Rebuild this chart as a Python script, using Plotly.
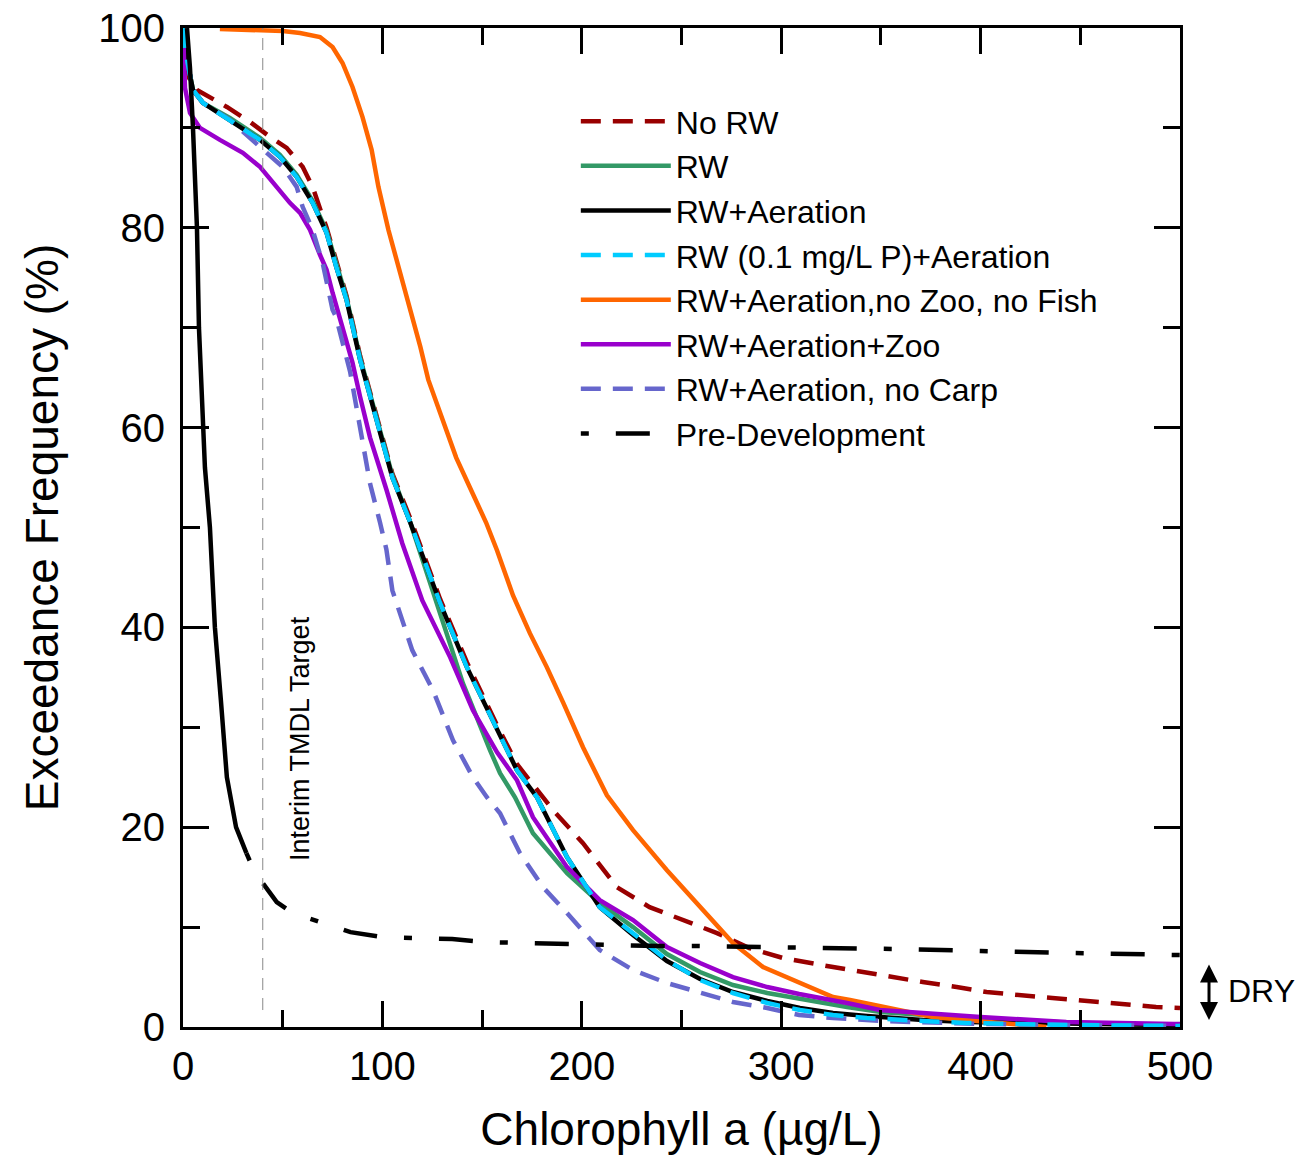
import plotly.graph_objects as go

# ---------------- data ----------------
norw_x = [0, 1, 3, 7, 22, 33.6, 43.6, 52, 60, 65, 72, 77, 82, 88.8, 93.8, 97.3, 105, 114, 119, 129, 142.4,
          157.5, 167.5, 179, 185.6, 200.6, 217.6, 234, 250.8, 267.8, 284, 301, 326, 343, 371, 388, 403, 436,
          453, 488, 500]
norw_y = [100, 97, 95, 93.8, 92.1, 90.6, 89.1, 88, 86.1, 84.1, 80, 76.5, 73.2, 67.2, 63.5, 60.9, 55.4, 50.9,
          48.2, 42.8, 36.5, 30.2, 26.3, 23.4, 21.7, 18.4, 14, 12, 10.7, 9.4, 7.9, 6.9, 6, 5.4, 4.5, 4, 3.5,
          2.9, 2.6, 2, 1.9]

rw_x = [0, 1, 3, 5, 10, 23.5, 38.6, 48.6, 57, 65, 72, 77, 82, 88.8, 93.8, 97.3, 105, 114, 124, 140.4, 154,
        159, 166.5, 175.5, 192.6, 209, 225.7, 242.7, 259.3, 275.8, 293, 309, 333, 350, 400, 450, 500]
rw_y = [100, 98, 95.8, 93.8, 92.5, 91.0, 89.0, 87.3, 85.3, 82.7, 79.7, 76.2, 73.0, 67.0, 63.3, 60.7, 55.2,
        50.5, 44.4, 34.4, 27.7, 25.4, 23, 19.4, 15.4, 12.4, 10, 7.3, 5.5, 4.2, 3.4, 2.8, 2.0, 1.5, 0.8, 0.4,
        0.2]

aer_x = [0, 1, 3, 5, 10, 23.5, 38.6, 48.6, 57, 65, 72, 77, 82, 88.8, 93.8, 97.3, 105, 114, 119, 129, 142.4,
         157.5, 167.5, 177.5, 192.6, 209, 225.7, 242.7, 259.3, 275.8, 293, 309.4, 326, 343, 371, 393, 443,
         493, 500]
aer_y = [100, 98, 95.8, 93.8, 92.5, 90.8, 88.8, 87.1, 85.1, 82.5, 79.5, 76, 72.8, 66.8, 63.1, 60.5, 55,
         50.5, 47.8, 42.4, 36, 29.7, 25.7, 23, 17, 12, 9.2, 6.6, 4.8, 3.5, 2.6, 1.9, 1.4, 1.1, 0.7, 0.5,
         0.3, 0.2, 0.2]

p01_x = [0, 1, 3, 5, 10, 23.5, 38.6, 48.6, 57, 65, 72, 77, 82, 88.8, 93.8, 97.3, 105, 114, 119, 129, 142.4,
         157.5, 167.5, 177.5, 192.6, 209, 225.7, 242.7, 259.3, 275.8, 293, 309.4, 326, 343, 371, 393, 443,
         493, 500]
p01_y = [100, 98, 95.8, 93.8, 92.5, 90.8, 88.8, 87.1, 85.1, 82.5, 79.5, 76, 72.8, 66.8, 63.1, 60.5, 55,
         50.5, 47.8, 42.4, 36, 29.7, 25.7, 23, 17, 12, 9.4, 6.7, 4.7, 3.4, 2.4, 1.7, 1.2, 0.9, 0.6, 0.4,
         0.2, 0.1, 0.1]

nozoo_x = [18.5, 40, 50, 58.7, 68.7, 75, 80, 85, 90, 94.6, 98, 103, 109, 114, 119, 123, 129, 137, 145.5,
           152, 157.5, 165.5, 174, 182.5, 190.6, 200.6, 212.6, 225.7, 242.7, 259.3, 275.8, 290.9, 309.4,
           326, 334.5, 351, 376, 409.7, 433]
nozoo_y = [99.9, 99.8, 99.7, 99.5, 99.1, 98.1, 96.5, 94.1, 91.1, 87.8, 84.1, 79.8, 75.5, 71.5, 68.1, 64.8,
           61.5, 57, 53.3, 50.5, 47.7, 43.2, 39.4, 36, 32.5, 28, 23.2, 19.7, 15.7, 12, 8.4, 6.0, 4.4, 3.0,
           2.7, 2.0, 1.0, 0.4, 0]

zoo_x = [0, 0.5, 1, 3.5, 8.5, 18.5, 30, 38.6, 47, 53.6, 58.7, 63.7, 68.7, 72, 75, 80, 85, 88.8, 93.8, 102,
         110, 120, 134, 145.4, 157.5, 167.5, 175.5, 192.6, 209, 225.7, 242.7, 259.3, 275.8, 293, 309, 333,
         349.5, 400, 443, 497, 500]
zoo_y = [100, 97, 94, 91.5, 90, 88.8, 87.5, 86.1, 84.1, 82.5, 81.5, 79.8, 77.3, 75.8, 73.5, 70, 66.5, 63.1,
         59, 53.8, 48.4, 42.7, 37, 31.7, 27.5, 24.7, 21, 16, 12.7, 10.7, 8, 6.4, 5, 4, 3.3, 2.4, 1.7, 1.0,
         0.5, 0.3, 0.3]

carp_x = [0, 1, 3, 5, 10, 23.5, 42, 50, 57, 60, 65, 70, 75, 76.7, 83.8, 88.8, 93.8, 98.8, 102, 105, 115,
          125.4, 135.4, 145.4, 152.4, 159, 169, 180.5, 192.6, 209, 225.7, 242.7, 259.3, 275.8, 293, 309,
          326, 350, 400, 450, 500]
carp_y = [100, 98, 95.8, 93.8, 92.5, 90.8, 87.5, 86.1, 84.1, 82.1, 79.8, 76.5, 71.8, 71.1, 65.6, 60, 54.4,
          50.5, 47.8, 43.7, 37.7, 33.7, 28.7, 25, 23, 21.4, 17.4, 14, 11.4, 7.7, 5.7, 4.4, 3.4, 2.5, 1.9,
          1.2, 0.9, 0.6, 0.3, 0.15, 0.1]

# Pre-development: steep (solid-looking) part, then the dash-dot tail
pre_steep_x = [2, 3, 3.5, 5, 7, 8, 9.5, 11, 13.5, 16, 19, 20, 22, 26.6, 31.8]
pre_steep_y = [100, 98, 96, 90, 80, 70, 63, 56, 50, 40, 32.7, 30, 25, 20, 17.4]
pre_tail_x = [31.8, 36, 40, 47, 55, 70, 84, 100, 118, 135, 152, 169, 187, 205, 239, 258, 291, 309, 343, 362,
              400, 450, 478, 496, 500]
pre_tail_y = [17.4, 15.5, 14.4, 12.5, 11.4, 10.4, 9.5, 9.0, 8.9, 8.8, 8.5, 8.4, 8.3, 8.3, 8.1, 8.1, 8.0,
              8.0, 7.8, 7.8, 7.6, 7.4, 7.3, 7.2, 7.2]

x_ticks = [0, 100, 200, 300, 400, 500]
y_ticks = [0, 20, 40, 60, 80, 100]
tmdl_target = 40

# ---------------- figure ----------------
FONT = "Arial, Liberation Sans, sans-serif"
fig = go.Figure()

traces = [
    ("No RW", norw_x, norw_y, "#990000", "20px,12px", 1, True),
    ("RW", rw_x, rw_y, "#339966", "solid", 2, True),
    ("RW+Aeration", aer_x, aer_y, "#000000", "solid", 3, True),
    ("RW+Aeration,no Zoo, no Fish", nozoo_x, nozoo_y, "#FF6600", "solid", 5, True),
    ("RW+Aeration+Zoo", zoo_x, zoo_y, "#9900CC", "solid", 6, True),
    ("RW+Aeration, no Carp", carp_x, carp_y, "#6666CC", "20px,12px", 7, True),
    ("RW (0.1 mg/L P)+Aeration", p01_x, p01_y, "#00CCFF", "20px,12px", 4, True),
    ("Pre-Development", pre_tail_x, pre_tail_y, "#000000", "8px,27px,34px,27px", 8, True),
    ("Pre-Development", pre_steep_x, pre_steep_y, "#000000", "solid", 8, False),
]

for name, xs, ys, color, dash, rank, show in traces:
    fig.add_trace(go.Scatter(
        x=xs, y=ys, mode="lines", name=name,
        line=dict(color=color, width=4.5, dash=dash),
        legendrank=rank, legendgroup=name, showlegend=show,
    ))

# Interim TMDL target line
fig.add_shape(type="line", xref="x", yref="y", x0=tmdl_target, x1=tmdl_target, y0=1.7, y1=100,
              line=dict(color="#888888", width=1, dash="12px,8px"))
fig.add_annotation(x=59, y=28.9, xref="x", yref="y", text="Interim TMDL Target", textangle=-90,
                   showarrow=False, font=dict(family=FONT, size=27, color="black"))

# DRY arrow
fig.add_annotation(x=1.0291, y=0.7, xref="paper", yref="y", ax=0, ay=-57, axref="pixel", ayref="pixel",
                   text="", showarrow=True, arrowhead=2, startarrowhead=2, arrowside="end+start",
                   arrowsize=1.2, startarrowsize=1.2, arrowwidth=3, arrowcolor="black")
fig.add_annotation(x=1.046, y=3.6, xref="paper", yref="y", text="DRY", showarrow=False,
                   xanchor="left", font=dict(family=FONT, size=32, color="black"))

axis_common = dict(
    showline=True, linecolor="black", linewidth=3, mirror="ticks",
    ticks="inside", ticklen=26, tickwidth=3, tickcolor="black",
    showgrid=False, zeroline=False,
    tickfont=dict(family=FONT, size=40, color="black"),
)

fig.update_xaxes(range=[0, 500], tickvals=x_ticks, ticktext=[str(v) for v in x_ticks],
                 ticklabelstandoff=2,
                 title=dict(text="Chlorophyll a (µg/L)", font=dict(family=FONT, size=46, color="black"),
                            standoff=26),
                 minor=dict(dtick=50, ticks="inside", ticklen=17, tickwidth=3, tickcolor="black"),
                 **axis_common)
fig.update_yaxes(range=[0, 100], tickvals=y_ticks, ticktext=[str(v) for v in y_ticks],
                 ticklabelstandoff=7,
                 title=dict(text="Exceedance Frequency (%)", font=dict(family=FONT, size=46, color="black"),
                            standoff=26),
                 minor=dict(dtick=10, ticks="inside", ticklen=17, tickwidth=3, tickcolor="black"),
                 **axis_common)

fig.update_layout(
    width=1302, height=1158,
    margin=dict(l=183, r=122, t=28, b=131, autoexpand=False),
    paper_bgcolor="white", plot_bgcolor="white",
    font=dict(family=FONT, color="black"),
    legend=dict(x=0.394, y=0.934, xanchor="left", yanchor="top", bgcolor="rgba(0,0,0,0)",
                font=dict(family=FONT, size=32, color="black"), tracegroupgap=0, itemwidth=90,
                traceorder="grouped"),
)

fig.write_html("out.html")
